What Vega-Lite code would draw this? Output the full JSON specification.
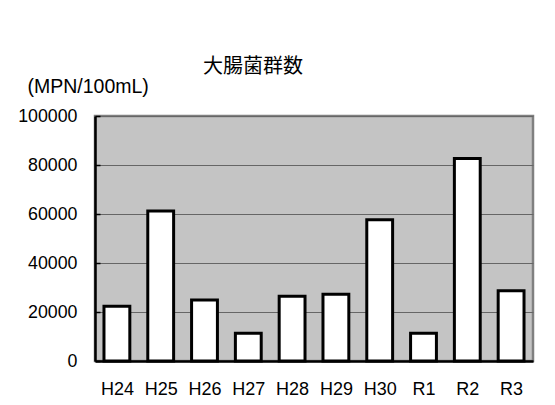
{
  "$schema": "https://vega.github.io/schema/vega-lite/v6.json",
  "width": 438,
  "height": 245,
  "autosize": {"type": "none"},
  "padding": {"left": 95, "top": 116, "right": 22, "bottom": 44},
  "background": "white",
  "title": {
    "text": "大腸菌群数",
    "font": "Noto Sans CJK JP",
    "fontSize": 20,
    "fontWeight": "normal",
    "color": "black",
    "anchor": "start",
    "frame": "group",
    "dx": 108,
    "dy": 60,
    "offset": 39,
    "baseline": "bottom"
  },
  "data": {
    "values": [
      {"year": "H24", "count": 22300},
      {"year": "H25", "count": 61200},
      {"year": "H26", "count": 24900},
      {"year": "H27", "count": 11300},
      {"year": "H28", "count": 26400},
      {"year": "H29", "count": 27200},
      {"year": "H30", "count": 57700},
      {"year": "R1", "count": 11300},
      {"year": "R2", "count": 82700},
      {"year": "R3", "count": 28700}
    ]
  },
  "mark": {"type": "bar", "fill": "white", "stroke": "black", "strokeWidth": 3},
  "encoding": {
    "x": {
      "field": "year",
      "type": "nominal",
      "sort": null,
      "scale": {"paddingInner": 0.41, "paddingOuter": 0.205},
      "axis": {
        "title": null,
        "labelAngle": 0,
        "labelFont": "Liberation Sans",
        "labelFontSize": 18,
        "labelColor": "black",
        "labelBaseline": "top",
        "labelPadding": 24,
        "tickBand": "extent",
        "tickSize": -5,
        "tickColor": "#888888",
        "tickWidth": 1,
        "domainColor": "black",
        "domainWidth": 2.5,
        "grid": false
      }
    },
    "y": {
      "field": "count",
      "type": "quantitative",
      "scale": {"domain": [0, 100000], "nice": false},
      "axis": {
        "title": "(MPN/100mL)",
        "titleAngle": 0,
        "titleAlign": "left",
        "titleBaseline": "alphabetic",
        "titleX": -68,
        "titleY": -24,
        "titleFont": "Liberation Sans",
        "titleFontSize": 19.5,
        "titleFontWeight": "normal",
        "titleColor": "black",
        "values": [0, 20000, 40000, 60000, 80000, 100000],
        "format": "d",
        "labelFont": "Liberation Sans",
        "labelFontSize": 17.8,
        "labelColor": "black",
        "labelPadding": 23,
        "tickSize": -5,
        "tickColor": "black",
        "tickWidth": 1.5,
        "domainColor": "black",
        "domainWidth": 2.5,
        "grid": true,
        "gridColor": "#666666",
        "gridWidth": 1
      }
    }
  },
  "config": {
    "view": {"fill": "#C4C4C4", "stroke": "#808080", "strokeWidth": 2.5}
  }
}
